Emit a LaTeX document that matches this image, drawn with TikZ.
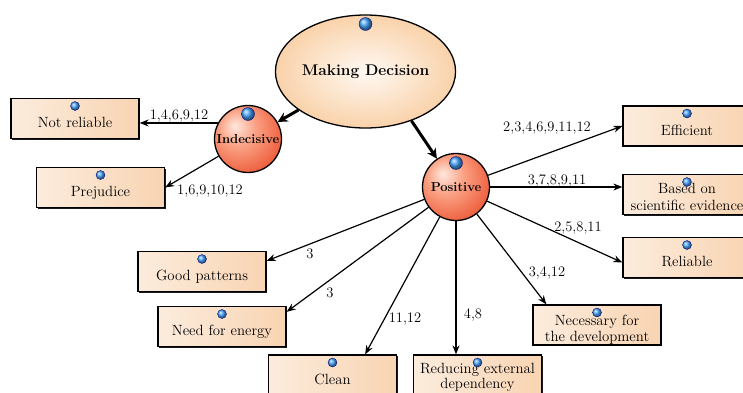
\documentclass[tikz,border=0pt]{standalone}
\usetikzlibrary{arrows.meta,shapes.geometric,shadows,calc}
\definecolor{peachL}{RGB}{252,236,221}
\definecolor{peachM}{RGB}{251,230,210}
\definecolor{peachR}{RGB}{248,212,178}
\definecolor{ellIn}{RGB}{255,249,243}
\definecolor{ellOut}{RGB}{249,210,170}
\definecolor{cA}{RGB}{255,232,222}
\definecolor{cB}{RGB}{250,160,130}
\definecolor{cC}{RGB}{236,88,55}
\definecolor{ballc}{RGB}{70,165,255}
\pgfdeclareradialshading{redball}{\pgfpoint{-10bp}{10bp}}{color(0bp)=(cA); color(14bp)=(cB); color(34bp)=(cC); color(70bp)=(cC)}
\tikzset{
  box/.style={draw=black, line width=1.3pt, minimum width=128pt, minimum height=40pt, inner sep=0pt,
    left color=peachL, middle color=peachM, right color=peachR,
    drop shadow={shadow xshift=1.3pt, shadow yshift=-1.3pt, opacity=0.9, fill=black}},
  btext/.style={font=\fontsize{14.8}{17}\selectfont, inner sep=0pt, anchor=base},
  lab/.style={font=\fontsize{14.5}{16}\selectfont, inner sep=0pt},
  bball/.style={circle, minimum size=9pt, inner sep=0pt, shading=ball, ball color=ballc, draw=blue!45!black, line width=0.3pt},
  bigball/.style={bball, minimum size=13pt},
  mdell/.style={ellipse, draw=black, line width=1.3pt, minimum width=165pt, minimum height=113pt, inner sep=0pt,
    inner color=ellIn, outer color=ellOut, font=\bfseries\fontsize{15.5}{18}\selectfont},
  circ/.style={circle, draw=black, line width=1.3pt, minimum size=67pt, inner sep=0pt, shading=redball,
    font=\bfseries\fontsize{13}{16}\selectfont},
  conn/.style={line width=1.2pt, -{Stealth[length=9pt,width=7pt]}},
  bigconn/.style={line width=3pt, -{Stealth[length=10pt,width=10pt]}}
}
\begin{document}
\begin{tikzpicture}[x=1pt,y=-1pt]
\useasboundingbox (0,0) rectangle (743,392);
\clip (0,0) rectangle (743,392);
\fill[white] (0,0) rectangle (743,392);

% main nodes
\node[mdell] (md) at (365.5,71.5) {Making Decision};
\node[circ] (ind) at (248,139) {Indecisive};
\node[circ] (pos) at (456,187) {Positive};
\node[bigball] (mdb) at ($(md.center)+(0,-47.5)$) {};
\node[bigball] (indb) at ($(ind.center)+(0,-25)$) {};
\node[bigball] (posb) at ($(pos.center)+(0,-24)$) {};

% boxes
\node[box] (nr) at (75,118.5) {};
\node[box] (pj) at (100.5,187.5) {};
\node[box] (gp) at (202,271.5) {};
\node[box] (ne) at (222,326.5) {};
\node[box] (cl) at (332.5,375) {};
\node[box] (rd) at (477.5,375) {};
\node[box] (nc) at (597,325) {};
\node[box] (rl) at (687,257.5) {};
\node[box] (bs) at (687,194.5) {};
\node[box] (ef) at (687,126) {};

% box texts
\node[btext] (nrt) at ($(nr.center)+(0,9)$) {Not reliable};
\node[btext] (pjt) at ($(pj.center)+(0,9)$) {Prejudice};
\node[btext] (gpt) at ($(gp.center)+(0,9)$) {Good patterns};
\node[btext] (net) at ($(ne.center)+(0,9)$) {Need for energy};
\node[btext] (clt) at ($(cl.center)+(0,9)$) {Clean};
\node[btext] (rdt1) at ($(rd.center)+(0,-1.5)$) {Reducing external};
\node[btext] (rdt2) at ($(rd.center)+(0,13.5)$) {dependency};
\node[btext] (nct1) at ($(nc.center)+(0,0)$) {Necessary for};
\node[btext] (nct2) at ($(nc.center)+(0,16.5)$) {the development};
\node[btext] (rlt) at ($(rl.center)+(0,9)$) {Reliable};
\node[btext] (bst1) at ($(bs.center)+(0,-1.5)$) {Based on};
\node[btext] (bst2) at ($(bs.center)+(0,16)$) {scientific evidence};
\node[btext] (eft) at ($(ef.center)+(0,9)$) {Efficient};

% box balls
\foreach \b in {nr,pj,gp,ne,cl,rd,nc,rl,bs,ef}
  \node[bball] (\b ball) at ($(\b.center)+(0,-12.5)$) {};

% connectors
\draw[bigconn] (md) -- (ind);
\draw[bigconn] (md.313) -- (pos);
\draw[conn] (ind.152) -- (ind.152 -| nr.east);
\draw[conn] (ind) -- (pj.east);
\draw[conn] (pos) -- (ef.west);
\draw[conn] (pos.east) -- (pos.east -| bs.west);
\draw[conn] (pos) -- ($(rl.west)+(0,5)$);
\draw[conn] (pos) -- ($(nc.north west)+(14,0)$);
\draw[conn] (pos.south) -- (pos.south |- rd.north);
\draw[conn] (pos) -- ($(cl.north east)+(-32,0)$);
\draw[conn] (pos) -- ($(ne.north east)+(0,6)$);
\draw[conn] (pos) -- ($(gp.north east)+(0,10)$);

% labels
\node[lab] (l1) at (179,116) {1,4,6,9,12};
\node[lab] (l2) at (210,191) {1,6,9,10,12};
\node[lab] (l3) at (547,128) {2,3,4,6,9,11,12};
\node[lab] (l4) at (557,181) {3,7,8,9,11};
\node[lab] (l5) at (578,228) {2,5,8,11};
\node[lab] (l6) at (547,273) {3,4,12};
\node[lab] (l7) at (473,315) {4,8};
\node[lab] (l8) at (405,319) {11,12};
\node[lab] (l9) at (330,293) {3};
\node[lab] (l10) at (310,254) {3};
\end{tikzpicture}
\end{document}
